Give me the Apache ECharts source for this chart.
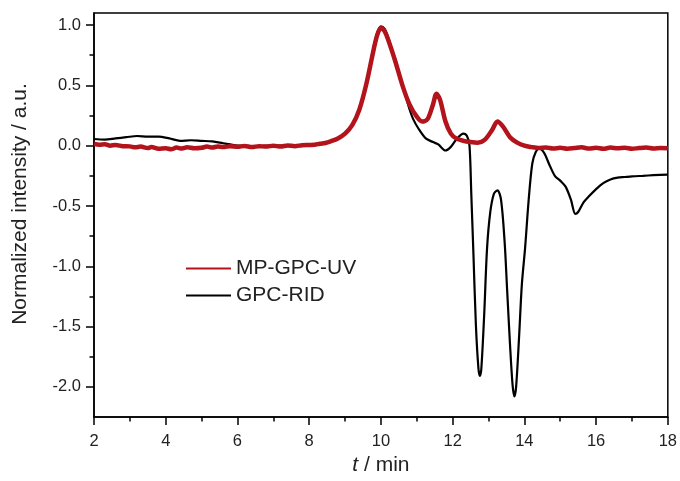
<!DOCTYPE html>
<html>
<head>
<meta charset="utf-8">
<script src="https://cdn.jsdelivr.net/npm/echarts@6/dist/echarts.min.js"></script>
<style>html,body{margin:0;padding:0;background:#fff}#c{width:680px;height:481px}</style>
</head>
<body>
<div id="c"></div>
<script>
// GPC-RID (black) trace: time in min, normalized intensity
const ridTime = [2.0,2.3,2.6,2.9,3.2,3.5,3.8,4.1,4.4,4.7,5.0,5.3,5.6,5.8,6.0,6.5,7.0,7.5,8.0,8.3,8.6,8.8,9.0,9.2,9.4,9.6,9.8,9.9,10.0,10.1,10.2,10.4,10.6,10.8,10.9,11.05,11.25,11.45,11.6,11.8,11.95,12.1,12.3,12.4,12.47,12.52,12.58,12.65,12.72,12.76,12.8,12.88,12.96,13.05,13.15,13.25,13.35,13.45,13.52,13.6,13.67,13.72,13.77,13.85,13.93,14.02,14.12,14.22,14.32,14.42,14.55,14.7,14.85,15.0,15.15,15.3,15.42,15.5,15.65,15.8,16.0,16.2,16.4,16.6,16.8,17.0,17.3,17.6,18.0];
const ridValue = [0.055,0.05,0.06,0.07,0.08,0.075,0.075,0.06,0.04,0.045,0.04,0.035,0.02,0.01,0.0,-0.005,0.0,0.0,0.005,0.015,0.035,0.06,0.1,0.17,0.3,0.52,0.82,0.94,0.99,0.97,0.9,0.7,0.5,0.3,0.22,0.14,0.06,0.03,0.01,-0.04,-0.01,0.05,0.1,0.08,0.0,-0.4,-0.9,-1.5,-1.85,-1.91,-1.85,-1.4,-0.85,-0.55,-0.4,-0.37,-0.45,-0.8,-1.2,-1.65,-1.98,-2.08,-2.0,-1.6,-1.15,-0.85,-0.45,-0.15,-0.05,-0.025,-0.06,-0.16,-0.25,-0.29,-0.34,-0.45,-0.565,-0.55,-0.47,-0.42,-0.36,-0.31,-0.28,-0.265,-0.26,-0.255,-0.25,-0.245,-0.24];

// MP-GPC-UV (red) trace
const uvTime = [2.0,2.15,2.3,2.45,2.6,2.8,3.0,3.15,3.3,3.5,3.6,3.8,4.0,4.15,4.3,4.45,4.6,4.8,5.0,5.15,5.3,5.45,5.6,5.8,6.0,6.2,6.4,6.6,6.8,7.0,7.2,7.4,7.6,7.8,8.0,8.15,8.3,8.45,8.6,8.8,9.0,9.2,9.4,9.6,9.8,9.9,10.0,10.1,10.2,10.4,10.6,10.8,11.0,11.15,11.3,11.45,11.55,11.65,11.8,11.95,12.1,12.3,12.5,12.7,12.9,13.1,13.25,13.4,13.6,13.8,14.0,14.2,14.4,14.6,14.8,15.0,15.2,15.4,15.6,15.8,16.0,16.2,16.4,16.6,16.8,17.0,17.2,17.4,17.6,17.8,18.0];
const uvValue = [0.015,0.008,0.012,0.0,0.006,-0.004,-0.006,-0.014,-0.008,-0.02,-0.012,-0.026,-0.022,-0.03,-0.016,-0.024,-0.014,-0.022,-0.018,-0.008,-0.016,-0.006,-0.012,-0.004,-0.01,-0.002,-0.012,-0.004,-0.008,0.0,-0.008,0.002,-0.004,0.004,0.006,0.008,0.016,0.022,0.036,0.06,0.1,0.17,0.3,0.52,0.8,0.92,0.975,0.95,0.88,0.7,0.5,0.34,0.24,0.2,0.22,0.34,0.43,0.38,0.2,0.1,0.06,0.04,0.03,0.025,0.05,0.13,0.2,0.16,0.07,0.025,0.0,-0.012,-0.02,-0.016,-0.024,-0.018,-0.026,-0.02,-0.014,-0.024,-0.018,-0.026,-0.016,-0.022,-0.018,-0.026,-0.02,-0.016,-0.024,-0.02,-0.022];

const xTicks = [2,4,6,8,10,12,14,16,18];
const yMajorTicks = [-2.0,-1.5,-1.0,-0.5,0.0,0.5,1.0];
const yMinorTicks = [-1.75,-1.25,-0.75,-0.25,0.25,0.75];

const FONT = 'Arial, "Liberation Sans", sans-serif';
const zip = (a, b) => a.map((v, i) => [v, b[i]]);

const chart = echarts.init(document.getElementById('c'), null, {renderer: 'canvas'});
chart.setOption({
  animation: false,
  backgroundColor: '#fff',
  grid: {left: 94, right: 10, top: 13, bottom: 61, show: true, borderColor: '#000', borderWidth: 1.5, backgroundColor: 'transparent'},
  legend: {
    orient: 'vertical', left: 181, top: 253,
    icon: 'rect', itemWidth: 45, itemHeight: 2, itemGap: 6,
    textStyle: {fontFamily: FONT, fontSize: 21, color: '#222', lineHeight: 20},
    data: ['MP-GPC-UV', 'GPC-RID']
  },
  xAxis: {
    type: 'value', min: xTicks[0], max: xTicks[xTicks.length - 1], interval: 2,
    name: '{i|t} / min', nameLocation: 'middle', nameGap: 38,
    nameTextStyle: {fontFamily: FONT, fontSize: 21, color: '#222', rich: {i: {fontStyle: 'italic', fontFamily: FONT, fontSize: 21, color: '#222'}}},
    axisLine: {onZero: false, lineStyle: {color: '#000', width: 1.5}},
    axisTick: {show: true, inside: false, length: 8, lineStyle: {color: '#000', width: 1.5}},
    minorTick: {show: true, splitNumber: 2, length: 4.5, lineStyle: {color: '#000', width: 1.5}},
    axisLabel: {fontFamily: FONT, fontSize: 16.5, color: '#222', margin: 16},
    splitLine: {show: false}
  },
  yAxis: [{
    type: 'value', min: -2.25, max: 1.1,
    axisLine: {show: true, onZero: false, lineStyle: {color: '#000', width: 1.5}},
    axisTick: {show: true, inside: false, length: 8, customValues: yMajorTicks, lineStyle: {color: '#000', width: 1.5}},
    axisLabel: {fontFamily: FONT, fontSize: 16.5, color: '#222', margin: 13, customValues: yMajorTicks, formatter: v => v.toFixed(1)},
    splitLine: {show: false}
  }, {
    type: 'value', min: -2.25, max: 1.1, position: 'left',
    axisLine: {show: false, onZero: false},
    axisTick: {show: true, inside: false, length: 4.5, customValues: yMinorTicks, lineStyle: {color: '#000', width: 1.5}},
    axisLabel: {show: false},
    splitLine: {show: false}
  }],
  graphic: [{
    type: 'text', x: 20.5, y: 204, rotation: Math.PI / 2,
    style: {text: 'Normalized intensity / a.u.', font: '21px ' + FONT, fill: '#222', align: 'center', verticalAlign: 'middle'}
  }],
  series: [{
    name: 'GPC-RID', type: 'line', symbol: 'none', yAxisIndex: 0,
    data: zip(ridTime, ridValue), smooth: 0.3,
    lineStyle: {color: '#000', width: 2.2}, itemStyle: {color: '#000'}, z: 2
  }, {
    name: 'MP-GPC-UV', type: 'line', symbol: 'none', yAxisIndex: 0,
    data: zip(uvTime, uvValue), smooth: 0.3,
    lineStyle: {color: '#b3141b', width: 4.5}, itemStyle: {color: '#b3141b'}, z: 3
  }]
});
</script>
</body>
</html>
